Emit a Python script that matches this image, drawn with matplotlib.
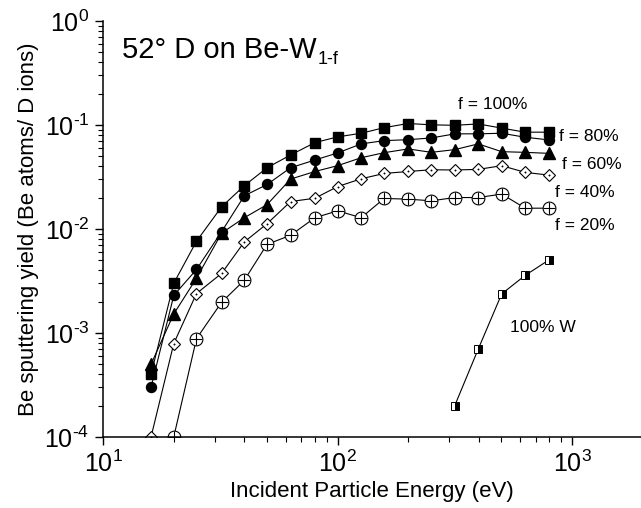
import matplotlib
matplotlib.use("Agg")
import matplotlib.pyplot as plt
from matplotlib.ticker import FuncFormatter
import math

plt.rcParams['font.family'] = ['Liberation Sans', 'DejaVu Sans']
plt.rcParams['mathtext.fontset'] = 'custom'
plt.rcParams['mathtext.rm'] = 'Liberation Sans'
plt.rcParams['mathtext.it'] = 'Liberation Sans'

energy = [16, 20, 25, 32, 40, 50, 63, 80, 100, 126, 158, 200, 251, 316, 398, 501, 631, 794]
f100 = [4e-4, 3.0e-3, 7.6e-3, 1.63e-2, 2.6e-2, 3.87e-2, 5.13e-2, 6.75e-2, 7.66e-2,
        8.3e-2, 9.4e-2, 0.103, 0.100, 0.099, 0.102, 0.093, 0.085, 0.085]
f80 = [3e-4, 2.29e-3, 4.07e-3, 9.4e-3, 2.08e-2, 2.67e-2, 3.87e-2, 4.59e-2, 5.37e-2,
       6.56e-2, 7.05e-2, 7.2e-2, 7.48e-2, 8.19e-2, 8.2e-2, 8.3e-2, 7.6e-2, 7.17e-2]
f60 = [5e-4, 1.52e-3, 3.35e-3, 9.1e-3, 1.28e-2, 1.71e-2, 3.01e-2, 3.56e-2, 4.05e-2,
       4.83e-2, 5.4e-2, 5.87e-2, 5.44e-2, 5.78e-2, 6.56e-2, 5.52e-2, 5.44e-2, 5.32e-2]
f40 = [1e-4, 7.9e-4, 2.39e-3, 3.73e-3, 7.5e-3, 1.12e-2, 1.83e-2, 1.97e-2, 2.55e-2,
       3.03e-2, 3.41e-2, 3.56e-2, 3.7e-2, 3.68e-2, 3.73e-2, 4.05e-2, 3.49e-2, 3.29e-2]
energy20 = energy[1:]
f20 = [1e-4, 8.8e-4, 1.97e-3, 3.21e-3, 7.1e-3, 8.67e-3, 1.28e-2, 1.49e-2, 1.28e-2,
       1.96e-2, 1.93e-2, 1.86e-2, 2.0e-2, 2.0e-2, 2.16e-2, 1.58e-2, 1.58e-2]
energyW = [316, 398, 501, 631, 794]
w100 = [2.0e-4, 7.0e-4, 2.37e-3, 3.57e-3, 5.0e-3]

labels = ["f = 100%", "f = 80%", "f = 60%", "f = 40%", "f = 20%"]

fig = plt.figure(figsize=(6.41, 5.08), dpi=100)
ax = fig.add_axes([0.161, 0.140, 0.839, 0.819])

lw = 0.8
ax.plot(energy, f100, '-', color='black', lw=lw, marker='s', ms=6.6, mfc='black', mec='black')
ax.plot(energy, f80, '-', color='black', lw=lw, marker='o', ms=7.2, mfc='black', mec='black')
ax.plot(energy, f60, '-', color='black', lw=lw, marker='^', ms=8.0, mfc='black', mec='black')
ax.plot(energy, f40, '-', color='black', lw=lw, marker='D', ms=6.5, mfc='white', mec='black', mew=0.8)
ax.plot(energy, f40, linestyle='none', marker='o', ms=1.0, mfc='black', mec='black', mew=0.3)
ax.plot(energy20, f20, '-', color='black', lw=lw, marker='o', ms=9.2, mfc='white', mec='black', mew=0.8)
ax.plot(energy20, f20, linestyle='none', marker='+', ms=9.2, mec='black', mew=0.8)
ax.plot(energyW, w100, '-', color='black', lw=lw, marker='s', ms=5.4, fillstyle='right',
        mfc='black', mfcalt='white', mec='black', mew=0.7)

ax.set_xscale('log')
ax.set_yscale('log')
ax.set_xlim(10, 1968)
ax.set_ylim(1e-4, 1)

def fmt(v, pos):
    e = int(round(math.log10(v)))
    return r'$\mathregular{10^{%s}}$' % (str(e).replace('-', '\u2010') if e < 0 else str(e))

ax.xaxis.set_major_formatter(FuncFormatter(fmt))
ax.yaxis.set_major_formatter(FuncFormatter(fmt))

for s in ['top', 'right']:
    ax.spines[s].set_visible(False)
for s in ['left', 'bottom']:
    ax.spines[s].set_linewidth(1.1)

ax.tick_params(which='major', direction='out', length=6, width=1.0, labelsize=18, pad=4)
ax.tick_params(which='minor', direction='out', length=3.5, width=0.8)

ax.set_xlabel('Incident Particle Energy (eV)', fontsize=16, labelpad=3)
ax.set_ylabel('Be sputtering yield (Be atoms/ D ions)', fontsize=16, labelpad=4)

t = ax.text(0.035, 0.93, '52° D on Be-W', transform=ax.transAxes,
            fontsize=21, ha='left', va='center')
ax.annotate('1-f', xy=(1.0, 0.0), xycoords=t, xytext=(0.5, -3), textcoords='offset points',
            fontsize=13, ha='left', va='bottom')

pos = [(0.66, 0.798), (0.848, 0.721), (0.853, 0.654), (0.840, 0.588), (0.840, 0.509)]
for lab, (x, y) in zip(labels, pos):
    ax.text(x, y, lab, transform=ax.transAxes, fontsize=12.5, ha='left', va='center')
ax.text(0.756, 0.262, '100% W', transform=ax.transAxes, fontsize=12.5, ha='left', va='center')

fig.savefig('out.png', dpi=100)
